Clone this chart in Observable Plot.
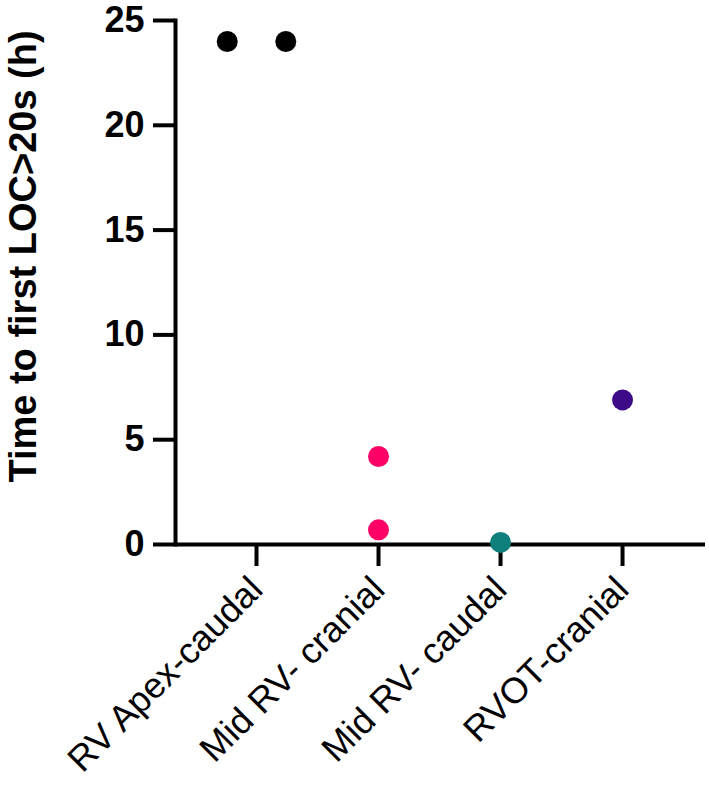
<!DOCTYPE html>
<html>
<head>
<meta charset="utf-8">
<script src="https://cdn.jsdelivr.net/npm/d3@7"></script>
<script src="https://cdn.jsdelivr.net/npm/@observablehq/plot@0.6"></script>
<style>
  html, body { margin: 0; padding: 0; background: #fff; overflow: hidden; }
  #chart svg { display: block; }
</style>
</head>
<body>
<div id="chart"></div>
<script>
// ---- data ----
const categories = ["RV Apex-caudal", "Mid RV- cranial", "Mid RV- caudal", "RVOT-cranial"];
const categoryColors = ["#000000", "#ff0066", "#0f7f7c", "#3d0a88"];
const pointCategory = ["RV Apex-caudal", "RV Apex-caudal", "Mid RV- cranial", "Mid RV- cranial", "Mid RV- caudal", "RVOT-cranial"];
const pointValue = [24, 24, 4.2, 0.7, 0.1, 6.9];
const yTicks = [0, 5, 10, 15, 20, 25];
const yLabel = "Time to first LOC>20s (h)";

// ---- layout helpers ----
const catIndex = new Map(categories.map((c, i) => [c, i]));
const spread = 0.48; // spacing between coincident dots, in category widths
const data = pointValue.map((v, i) => ({cat: pointCategory[i], value: v}));
const groups = d3.group(data, d => d.cat, d => d.value);
for (const d of data) {
  const g = groups.get(d.cat).get(d.value);
  const k = g.indexOf(d);
  d.pos = catIndex.get(d.cat) + (k - (g.length - 1) / 2) * spread;
}

const chart = Plot.plot({
  width: 709,
  height: 786,
  marginLeft: 175,
  marginRight: 4,
  marginTop: 20,
  marginBottom: 242,
  style: {fontFamily: "'Liberation Sans', Arial, Helvetica, sans-serif", background: "#fff", color: "#000"},
  x: {domain: [-0.664, 3.68], label: null},
  y: {domain: [0, 25], label: null},
  color: {domain: categories, range: categoryColors},
  marks: [
    Plot.axisY({
      ticks: yTicks,
      tickSize: 22,
      tickPadding: 9,
      strokeWidth: 4,
      fontSize: 36,
      fontWeight: "bold",
      label: null
    }),
    Plot.text([yLabel], {
      frameAnchor: "left",
      textAnchor: "middle",
      lineAnchor: "middle",
      rotate: -90,
      dx: -152,
      dy: -26,
      fontSize: 38,
      fontWeight: "bold",
      fill: "#000"
    }),
    Plot.axisX({
      ticks: d3.range(categories.length),
      tickFormat: i => categories[i],
      tickSize: 22,
      tickPadding: 17,
      strokeWidth: 4,
      tickRotate: -45,
      fontSize: 36,
      label: null
    }),
    Plot.frame({anchor: "left", stroke: "#000", strokeWidth: 4}),
    Plot.ruleY([0], {stroke: "#000", strokeWidth: 4}),
    Plot.dot(data, {x: "pos", y: "value", fill: "cat", r: 10.5, stroke: null})
  ]
});
document.getElementById("chart").appendChild(chart);
</script>
</body>
</html>
